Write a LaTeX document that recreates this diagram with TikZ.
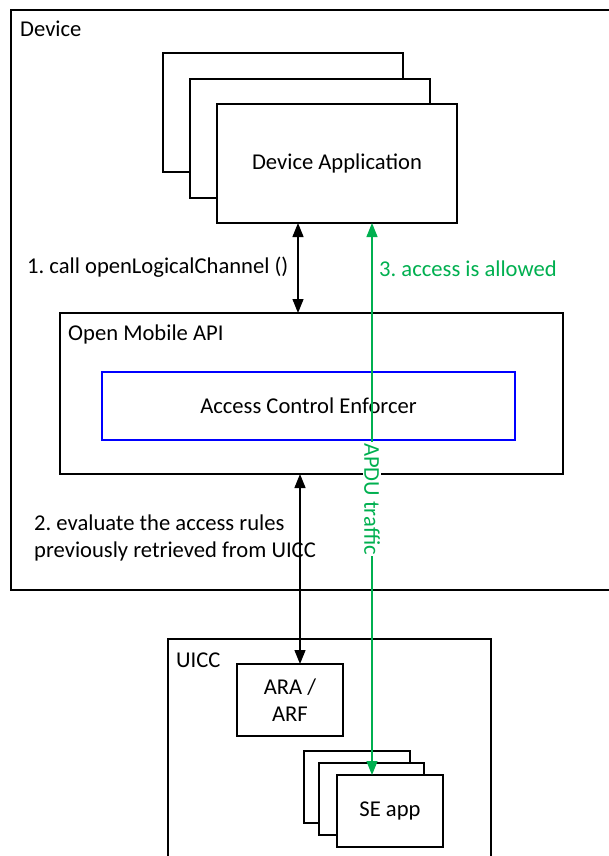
\documentclass[tikz,border=0pt]{standalone}
\usepackage{fontspec}
\setmainfont{Carlito}
\usetikzlibrary{arrows.meta}
\definecolor{apdugreen}{HTML}{00B050}
\definecolor{aceblue}{HTML}{0000FF}
\frenchspacing
\begin{document}
\begin{tikzpicture}[x=1pt,y=-1pt,
  every node/.style={font=\fontsize{22.6}{27}\selectfont},
  box/.style={draw=black, line width=1.3pt, fill=white, inner sep=0pt, outer sep=0pt, anchor=north west},
  txt/.style={anchor=base west, inner sep=0pt},
  biarrow/.style={line width=1.3pt, {Triangle[length=14pt,width=11pt]}-{Triangle[length=14pt,width=11pt]}},
]
\clip (0,0) rectangle (609,856);
\fill[white] (0,0) rectangle (609,856);
% containers
\node[box, minimum width=609pt, minimum height=580pt] (device) at (11,10) {};
\node[box, minimum width=323pt, minimum height=240pt] (uicc) at (168,639) {};
% device application stack
\node[box, minimum width=240pt, minimum height=119pt] (app1) at (163,53) {};
\node[box, minimum width=240pt, minimum height=119pt] (app2) at (190,79) {};
\node[box, minimum width=240pt, minimum height=119pt] (app3) at (217,104) {Device Application};
% open mobile api
\node[box, minimum width=503pt, minimum height=161pt] (api) at (60,313) {};
\node[box, draw=aceblue, minimum width=413pt, minimum height=68pt] (ace) at (102,372) {Access Control Enforcer};
% uicc content
\node[box, minimum width=106pt, minimum height=72pt, align=center] (ara) at (237,664) {ARA /\\ARF};
\node[box, minimum width=106pt, minimum height=72pt] (se1) at (304,751) {};
\node[box, minimum width=105pt, minimum height=72pt] (se2) at (319,763) {};
\node[box, minimum width=106pt, minimum height=72pt] (se3) at (337,775) {SE app};
% labels
\node[txt] (tdev) at (20,37) {Device};
\node[txt] (tapi) at (68,340) {Open Mobile API};
\node[txt] (tuicc) at (176,667) {UICC};
\node[txt] (t1) at (27,273) {1. call openLogicalChannel ()};
\node[txt, text=apdugreen] (t3) at (379,276) {3. access is allowed};
\node[txt] (t2a) at (34,530) {2. evaluate the access rules};
\node[txt] (t2b) at (34,557) {previously retrieved from UICC};
% connectors
\coordinate (xa) at (298,0);
\coordinate (xb) at (300,0);
\coordinate (xg) at (372,0);
\draw[biarrow] (xa |- app3.south) -- (xa |- api.north);
\draw[biarrow] (xb |- api.south) -- (xb |- ara.north);
\draw[biarrow, draw=apdugreen, fill=apdugreen] (xg |- se3.north) -- (xg |- app3.south)
  node[midway, rotate=-90, fill=white, inner sep=1.5pt, text=apdugreen] (apdu) {APDU traffic};
\end{tikzpicture}
\end{document}
